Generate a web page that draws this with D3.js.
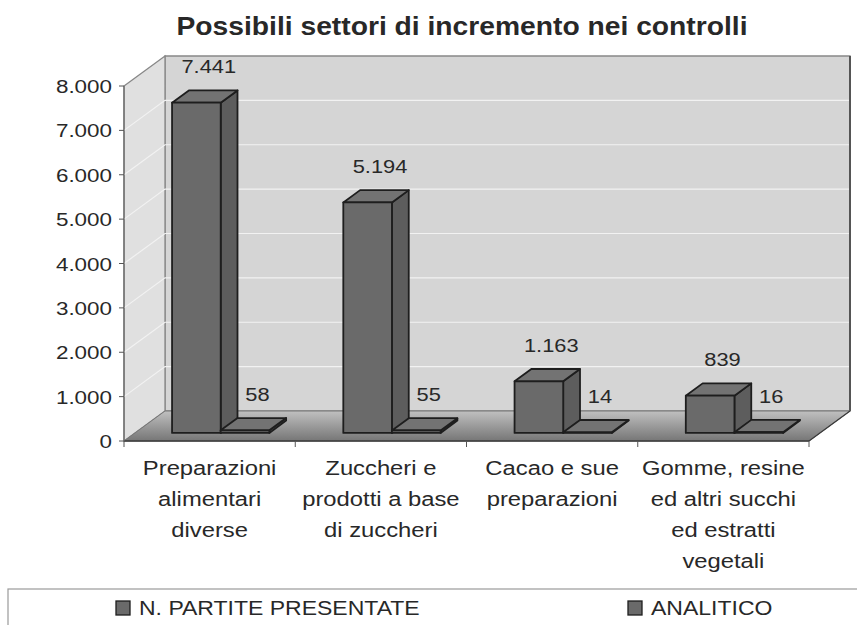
<!DOCTYPE html>
<html>
<head>
<meta charset="utf-8">
<script src="https://cdn.jsdelivr.net/npm/d3@7"></script>
<style>
  html, body { margin: 0; padding: 0; background: #fff; }
  svg { display: block; font-family: "Liberation Sans", Arial, sans-serif; }
</style>
</head>
<body>
<svg id="chart" width="857" height="625"></svg>
<script>
// Chart content
const title = "Possibili settori di incremento nei controlli";
const categories = [
  ["Preparazioni", "alimentari", "diverse"],
  ["Zuccheri e", "prodotti a base", "di zuccheri"],
  ["Cacao e sue", "preparazioni"],
  ["Gomme, resine", "ed altri succhi", "ed estratti", "vegetali"]
];
const seriesNames = ["N. PARTITE PRESENTATE", "ANALITICO"];
const partitePresentate = [7441, 5194, 1163, 839];
const analitico = [58, 55, 14, 16];
const yTicks = [0, 1000, 2000, 3000, 4000, 5000, 6000, 7000, 8000];

const svg = d3.select("#chart");
const it = d3.formatLocale({ decimal: ",", thousands: ".", grouping: [3], currency: ["€", ""] });
const fmt = it.format(",d");

// Front plane of the 3D box and its depth offset
const plotLeft = 124, plotRight = 809, plotBase = 441, plotTop = 86;
const depthX = 41, depthY = -30;
const proj = (px, py, f) => [px + f * depthX, py + f * depthY];

const catIdx = d3.range(categories.length);
const x = d3.scaleBand().domain(catIdx).range([plotLeft, plotRight])
  .paddingInner(0.432).paddingOuter(0.216);
const xSub = d3.scaleBand().domain([0, 1]).range([0, x.bandwidth()]);
const y = d3.scaleLinear().domain([0, 8000]).range([plotBase, plotTop]);

const textCol = "#282828";
function stretchedText(g, tx, ty, str, size, anchor, sx, weight) {
  return g.append("text")
    .attr("transform", `translate(${tx},${ty}) scale(${sx},1)`)
    .attr("text-anchor", anchor)
    .attr("font-size", size)
    .attr("font-weight", weight || "normal")
    .attr("fill", textCol)
    .text(str);
}

// Gradient for the floor
const defs = svg.append("defs");
const fg = defs.append("linearGradient").attr("id", "floorGrad")
  .attr("x1", 0).attr("y1", 0).attr("x2", 0).attr("y2", 1);
fg.append("stop").attr("offset", "0%").attr("stop-color", "#c0c0c0");
fg.append("stop").attr("offset", "100%").attr("stop-color", "#767676");

const pts = a => a.map(p => p.join(",")).join(" ");

// Back wall
const backTL = proj(plotLeft, plotTop, 1), backBR = proj(plotRight, plotBase, 1);
svg.append("polygon")
  .attr("points", pts([backTL, [backBR[0], backTL[1]], backBR, [backTL[0], backBR[1]]]))
  .attr("fill", "#d5d5d5").attr("stroke", "#888").attr("stroke-width", 1.3);

// Side wall
svg.append("polygon")
  .attr("points", pts([[plotLeft, plotTop], proj(plotLeft, plotTop, 1), proj(plotLeft, plotBase, 1), [plotLeft, plotBase]]))
  .attr("fill", "#e0e0e0").attr("stroke", "#888").attr("stroke-width", 1.3);

// Gridlines on both walls
yTicks.slice(1, -1).forEach(v => {
  const p0 = [plotLeft, y(v)], p1 = proj(plotLeft, y(v), 1), p2 = proj(plotRight, y(v), 1);
  svg.append("polyline").attr("points", pts([p0, p1, p2]))
    .attr("fill", "none").attr("stroke", "#f2f2f2").attr("stroke-width", 1.2);
});

// Right edge of back wall
svg.append("line")
  .attr("x1", backBR[0]).attr("y1", backTL[1]).attr("x2", backBR[0]).attr("y2", backBR[1])
  .attr("stroke", "#555").attr("stroke-width", 2);

// Floor
svg.append("polygon")
  .attr("points", pts([[plotLeft, plotBase], [plotRight, plotBase], proj(plotRight, plotBase, 1), proj(plotLeft, plotBase, 1)]))
  .attr("fill", "url(#floorGrad)").attr("stroke", "#777").attr("stroke-width", 1);
svg.append("line").attr("x1", plotLeft).attr("y1", plotBase).attr("x2", plotRight).attr("y2", plotBase)
  .attr("stroke", "#3a3a3a").attr("stroke-width", 1.5);
svg.append("line").attr("x1", plotRight).attr("y1", plotBase)
  .attr("x2", proj(plotRight, plotBase, 1)[0]).attr("y2", proj(plotRight, plotBase, 1)[1])
  .attr("stroke", "#3a3a3a").attr("stroke-width", 1.2);

// Value axis
svg.append("line").attr("x1", plotLeft).attr("y1", plotTop).attr("x2", plotLeft).attr("y2", plotBase)
  .attr("stroke", "#666").attr("stroke-width", 1.2);
const yAxisG = svg.append("g");
yTicks.forEach(v => {
  yAxisG.append("line").attr("x1", plotLeft - 5).attr("x2", plotLeft).attr("y1", y(v)).attr("y2", y(v))
    .attr("stroke", "#555").attr("stroke-width", 1);
  stretchedText(yAxisG, 112, y(v) + 7, fmt(v), 19, "end", 1.18);
});

// Category axis ticks and labels
const bounds = [plotLeft].concat(catIdx.map(i => plotLeft + (i + 1) * x.step()));
bounds.forEach(bx => {
  svg.append("line").attr("x1", bx).attr("x2", bx).attr("y1", plotBase).attr("y2", plotBase + 6)
    .attr("stroke", "#555").attr("stroke-width", 1);
});
catIdx.forEach(i => {
  const cx = plotLeft + (i + 0.5) * x.step();
  categories[i].forEach((line, k) => {
    stretchedText(svg, cx, 475 + k * 31, line, 20, "middle", 1.19);
  });
});

// Bars
const f1 = 0.27, f2 = 0.68;
const faceFront = "#6a6a6a", faceTop = "#737373", faceSide = "#5d5d5d", edge = "#1e1e1e";
const seriesValues = [partitePresentate, analitico];
const barsG = svg.append("g");
const labelsG = svg.append("g");
catIdx.forEach(i => {
  seriesValues.forEach((vals, s) => {
    const v = vals[i];
    const x0 = x(i) + xSub(s), x1 = x0 + xSub.bandwidth();
    const yt = y(v), yb = y(0);
    const g = barsG.append("g").attr("stroke", edge).attr("stroke-width", 1.8)
      .attr("stroke-linejoin", "round");
    g.append("polygon").attr("fill", faceSide)
      .attr("points", pts([proj(x1, yt, f1), proj(x1, yt, f2), proj(x1, yb, f2), proj(x1, yb, f1)]));
    g.append("polygon").attr("fill", faceTop)
      .attr("points", pts([proj(x0, yt, f1), proj(x1, yt, f1), proj(x1, yt, f2), proj(x0, yt, f2)]));
    g.append("polygon").attr("fill", faceFront)
      .attr("points", pts([proj(x0, yt, f1), proj(x1, yt, f1), proj(x1, yb, f1), proj(x0, yb, f1)]));
    const lp = proj((x0 + x1) / 2, yt, (f1 + f2) / 2);
    const lt = proj(x0, yt, f2);
    stretchedText(labelsG, lp[0] + 4, lt[1] - 17, fmt(v), 19, "middle", 1.15);
  });
});

// Title
stretchedText(svg, 462, 35, title, 25, "middle", 1.13, "bold");

// Legend
svg.append("rect").attr("x", 8).attr("y", 589).attr("width", 870).attr("height", 60)
  .attr("fill", "none").attr("stroke", "#9a9a9a").attr("stroke-width", 1.2);
const legendX = [116, 628];
seriesNames.forEach((name, s) => {
  svg.append("rect").attr("x", legendX[s]).attr("y", 601).attr("width", 14).attr("height", 14)
    .attr("fill", faceFront).attr("stroke", edge).attr("stroke-width", 1.3);
  stretchedText(svg, legendX[s] + 23, 615, name, 20, "start", 1.15);
});
</script>
</body>
</html>
